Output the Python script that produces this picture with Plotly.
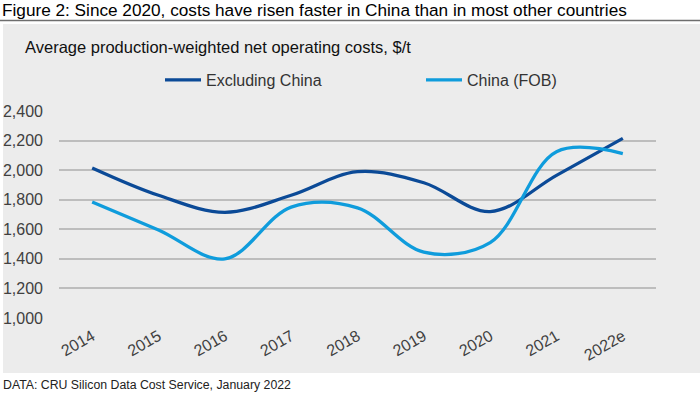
import plotly.graph_objects as go

years = ["2014", "2015", "2016", "2017", "2018", "2019", "2020", "2021", "2022e"]
excluding_china = [2015, 1830, 1715, 1830, 1990, 1915, 1720, 1965, 2215]
china_fob = [1785, 1595, 1400, 1750, 1745, 1445, 1510, 2125, 2112]
y_ticks = [1000, 1200, 1400, 1600, 1800, 2000, 2200, 2400]
y_tick_labels = ["1,000", "1,200", "1,400", "1,600", "1,800", "2,000", "2,200", "2,400"]

FONT = "Liberation Sans, Arial, sans-serif"
W, H = 700, 395
L, R, T, B = 59, 44, 111, 77
PW, PH = W - L - R, H - T - B


def px(x):
    return (x - L) / PW


def py(y):
    return (H - B - y) / PH


fig = go.Figure()
fig.add_trace(go.Scatter(
    x=years, y=excluding_china, name="Excluding China", mode="lines",
    line=dict(color="#0B4A97", width=3.3, shape="spline", smoothing=1.0),
))
fig.add_trace(go.Scatter(
    x=years, y=china_fob, name="China (FOB)", mode="lines",
    line=dict(color="#0F9CDC", width=3.3, shape="spline", smoothing=1.0),
))

shapes = [
    dict(type="rect", xref="paper", yref="paper", x0=px(3), x1=px(700), y0=py(373), y1=py(24),
         fillcolor="#ECECEC", line=dict(width=0), layer="below"),
    dict(type="line", xref="paper", yref="paper", x0=px(0), x1=px(700), y0=py(20.5), y1=py(20.5),
         line=dict(color="#6E6E6E", width=1.5)),
]

annotations = [
    dict(text="Figure 2: Since 2020, costs have risen faster in China than in most other countries",
         xref="paper", yref="paper", x=px(0), y=py(9.5), xanchor="left", yanchor="middle",
         showarrow=False, font=dict(family=FONT, size=17.2, color="#000000")),
    dict(text="Average production-weighted net operating costs, $/t",
         xref="paper", yref="paper", x=px(23), y=py(47), xanchor="left", yanchor="middle",
         showarrow=False, font=dict(family=FONT, size=16.5, color="#111111")),
    dict(text="DATA: CRU Silicon Data Cost Service, January 2022",
         xref="paper", yref="paper", x=px(1), y=py(385), xanchor="left", yanchor="middle",
         showarrow=False, font=dict(family=FONT, size=12.3, color="#222222")),
]

fig.update_layout(
    width=W, height=H,
    margin=dict(l=L, r=R, t=T, b=B, autoexpand=False),
    paper_bgcolor="#FFFFFF",
    plot_bgcolor="rgba(0,0,0,0)",
    font=dict(family=FONT, size=16, color="#333333"),
    showlegend=True,
    legend=dict(orientation="h", x=px(160), y=py(80), xanchor="left", yanchor="middle",
                bgcolor="rgba(0,0,0,0)", font=dict(family=FONT, size=16, color="#333333"),
                entrywidth=210, entrywidthmode="pixels", itemwidth=36),
    shapes=shapes,
    annotations=annotations,
)
fig.update_xaxes(
    type="category", showgrid=False, zeroline=False, showline=False,
    tickangle=-30, ticks="", ticklabelstandoff=5,
    tickfont=dict(family=FONT, size=16, color="#404040"),
    range=[-0.5, len(years) - 0.5],
)
fig.update_yaxes(
    range=[1000, 2400], tickvals=y_ticks, ticktext=y_tick_labels,
    showgrid=True, gridcolor="#BDBDBD", gridwidth=1.5, zeroline=False, showline=False,
    ticks="", ticklabelstandoff=15, tickfont=dict(family=FONT, size=16, color="#404040"),
)

fig.write_html(
    "out.html",
    config={"displayModeBar": False},
    post_script="document.body.style.margin='0';document.body.style.overflow='hidden';",
)
